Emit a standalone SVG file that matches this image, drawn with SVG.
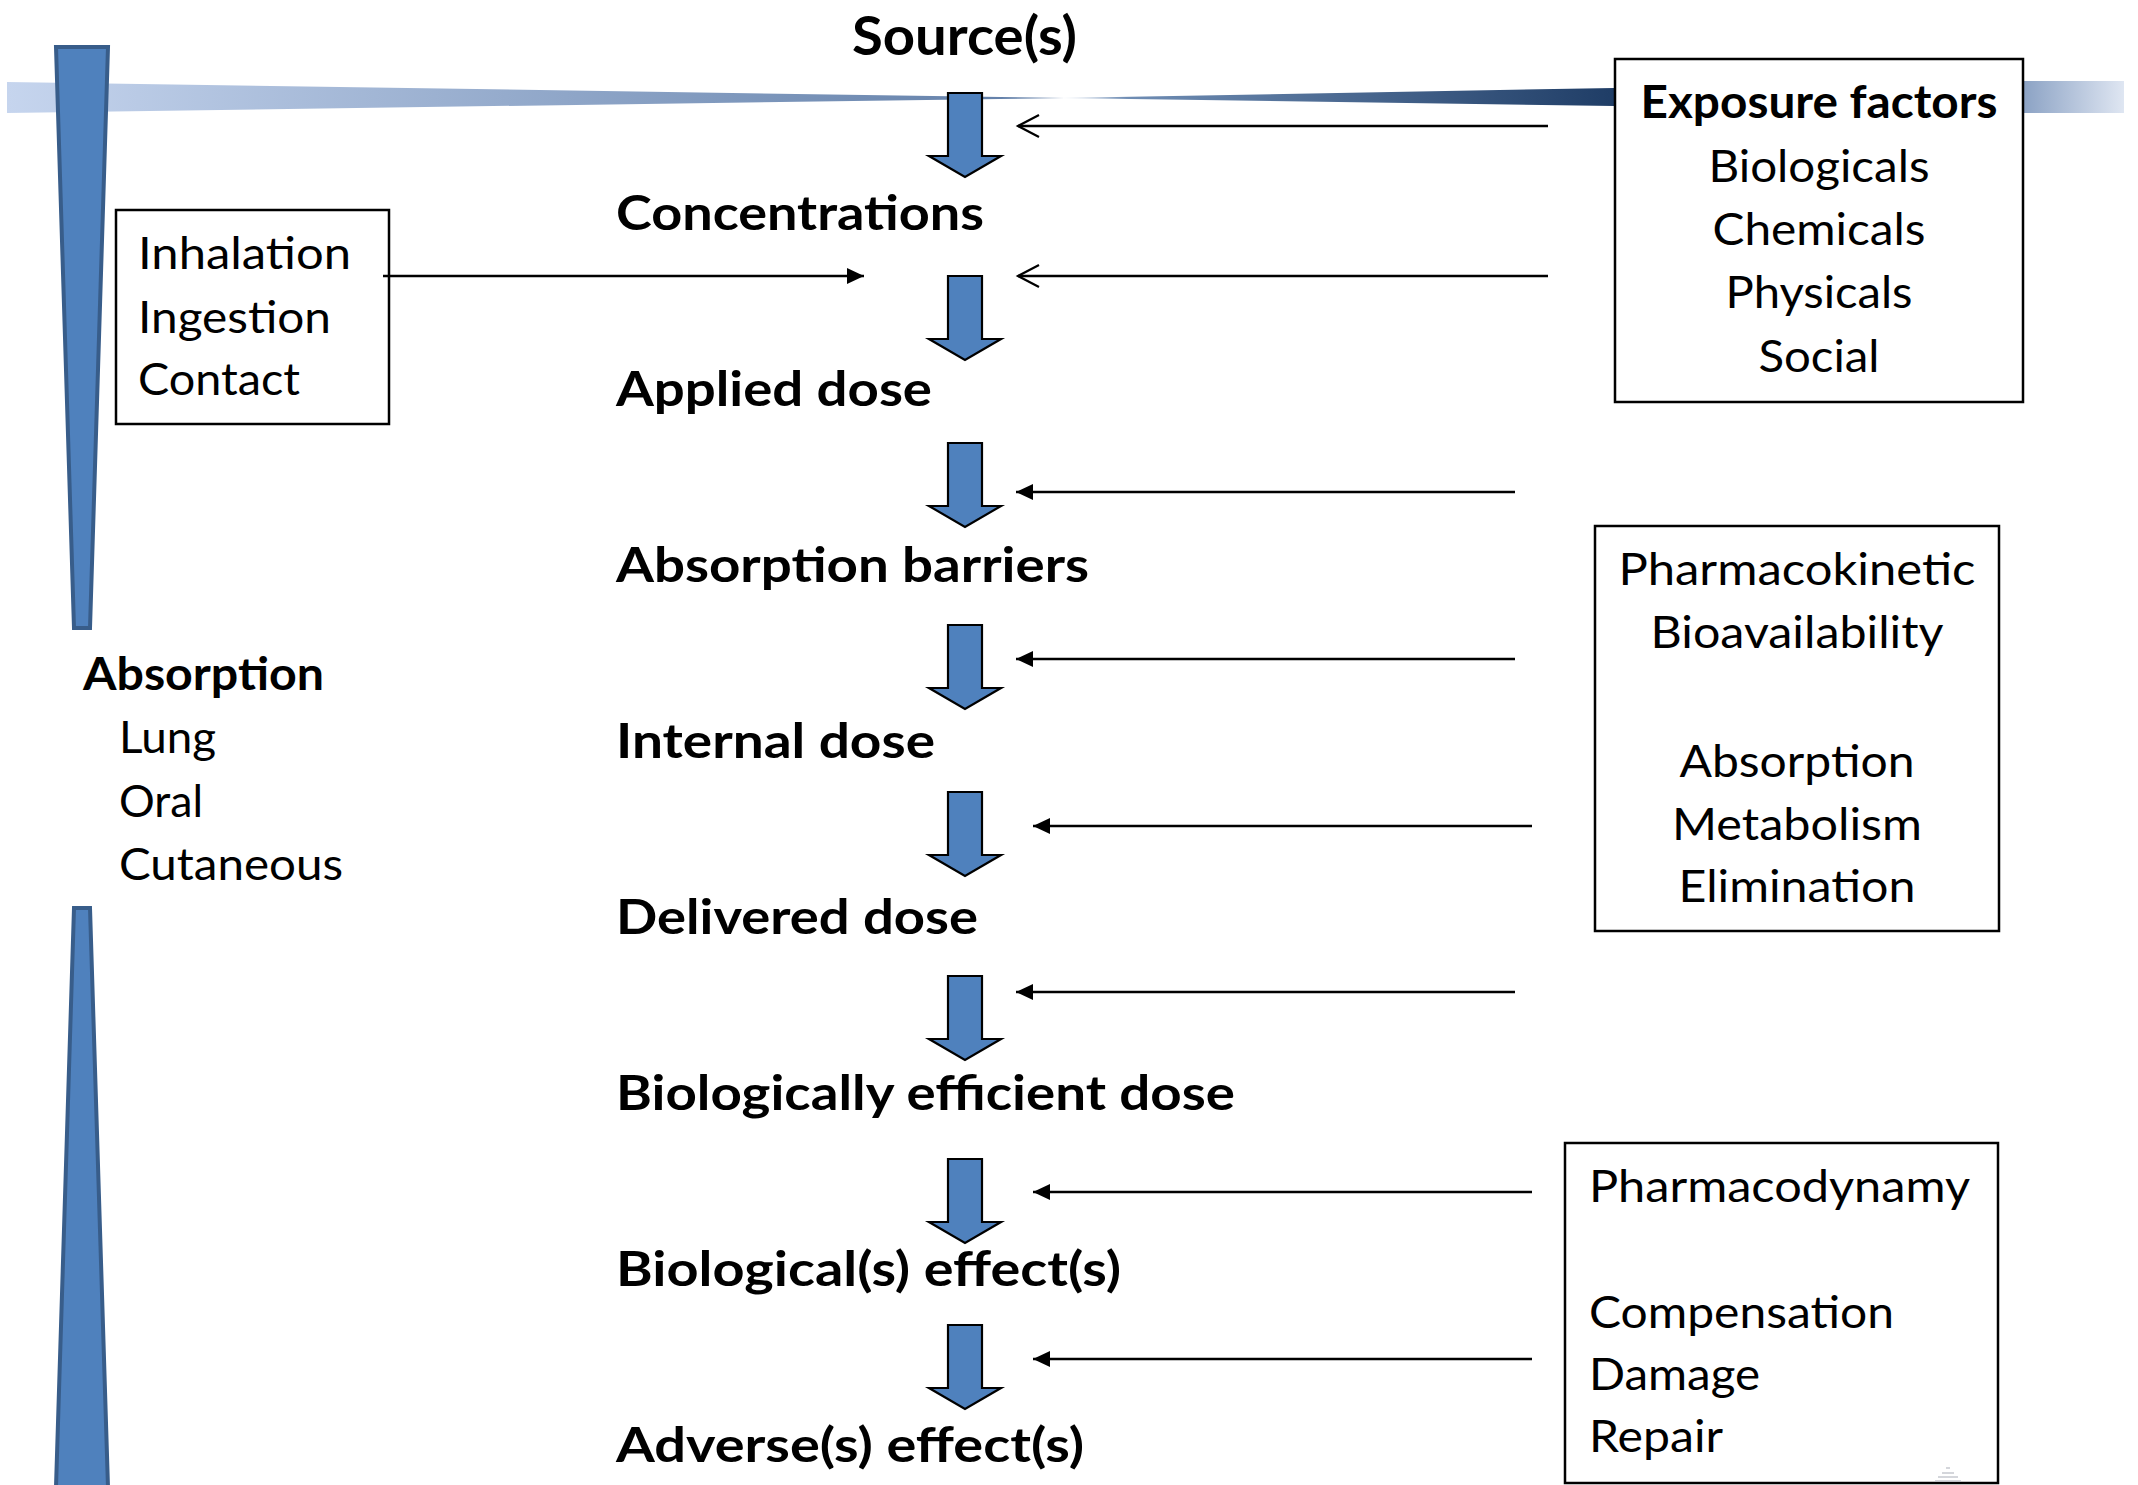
<svg xmlns="http://www.w3.org/2000/svg" width="2138" height="1485" viewBox="0 0 2138 1485">
<defs>
<style>
.b{font-family:Lato,"Open Sans","Liberation Sans",sans-serif;font-weight:700;fill:#000}
.r{font-family:Lato,"Open Sans","Liberation Sans",sans-serif;font-weight:400;fill:#000}
.lbl{font-size:47px}
.t{font-size:45px}
.box{fill:none;stroke:#000;stroke-width:2.5}
.cn{stroke:#000;stroke-width:2.5;fill:none}
.dn{fill:#4f81bd;stroke:#000;stroke-width:2.2;stroke-linejoin:miter}
.bar{fill:#4f81bd;stroke:#385d8a;stroke-width:4}
</style>
<linearGradient id="gL" x1="0" y1="0" x2="1" y2="0">
<stop offset="0" stop-color="#c6d5ee"/>
<stop offset="1" stop-color="#5e7ca6"/>
</linearGradient>
<linearGradient id="gR" x1="0" y1="0" x2="1" y2="0">
<stop offset="0" stop-color="#e8eef6"/>
<stop offset="0.12" stop-color="#6f8db4"/>
<stop offset="1" stop-color="#1f3d66"/>
</linearGradient>
<linearGradient id="gE" x1="0" y1="0" x2="1" y2="0">
<stop offset="0" stop-color="#8ba2c4"/>
<stop offset="1" stop-color="#dfe6f2"/>
</linearGradient>
<marker id="mf" markerUnits="userSpaceOnUse" markerWidth="20" markerHeight="20" refX="17" refY="8" orient="auto">
<path d="M0,0 L17,8 L0,16 Z" fill="#000"/>
</marker>
<marker id="mo" markerUnits="userSpaceOnUse" markerWidth="26" markerHeight="28" refX="22" refY="12" orient="auto">
<path d="M1,1 L22,12 L1,23" fill="none" stroke="#000" stroke-width="2.2"/>
</marker>
<path id="darrow" d="M948,0 V63 H929 L965,84 L1001,63 H982 V0 Z"/>
</defs>
<rect width="2138" height="1485" fill="#fff"/>

<g id="bands">
<polygon points="7,82 7,113 1065,98" fill="url(#gL)"/>
<polygon points="1060,98 1614,88 1614,106" fill="url(#gR)"/>
<rect x="2023" y="81" width="101" height="32" fill="url(#gE)"/>
<polygon class="bar" points="56,47 108,47 90,628 74,628"/>
<polygon class="bar" points="74,908 90,908 108,1487 56,1487"/>
</g>

<g id="flow-arrows">
<use href="#darrow" class="dn" y="93"/>
<use href="#darrow" class="dn" y="276"/>
<use href="#darrow" class="dn" y="443"/>
<use href="#darrow" class="dn" y="625"/>
<use href="#darrow" class="dn" y="792"/>
<use href="#darrow" class="dn" y="976"/>
<use href="#darrow" class="dn" y="1159"/>
<use href="#darrow" class="dn" y="1325"/>
</g>

<g id="connectors">
<line class="cn" x1="383" y1="276" x2="864" y2="276" marker-end="url(#mf)"/>
<line class="cn" x1="1548" y1="126" x2="1018" y2="126" marker-end="url(#mo)"/>
<line class="cn" x1="1548" y1="276" x2="1018" y2="276" marker-end="url(#mo)"/>
<line class="cn" x1="1515" y1="492" x2="1016" y2="492" marker-end="url(#mf)"/>
<line class="cn" x1="1515" y1="659" x2="1016" y2="659" marker-end="url(#mf)"/>
<line class="cn" x1="1532" y1="826" x2="1033" y2="826" marker-end="url(#mf)"/>
<line class="cn" x1="1515" y1="992" x2="1016" y2="992" marker-end="url(#mf)"/>
<line class="cn" x1="1532" y1="1192" x2="1033" y2="1192" marker-end="url(#mf)"/>
<line class="cn" x1="1532" y1="1359" x2="1033" y2="1359" marker-end="url(#mf)"/>
</g>

<g id="source"><text class="b" font-size="54" x="852" y="55" textLength="225" lengthAdjust="spacingAndGlyphs">Source(s)</text></g>
<g id="concentrations"><text class="b lbl" x="616" y="230" textLength="368" lengthAdjust="spacingAndGlyphs">Concentrations</text></g>
<g id="applied-dose"><text class="b lbl" x="616" y="406" textLength="316" lengthAdjust="spacingAndGlyphs">Applied dose</text></g>
<g id="absorption-barriers"><text class="b lbl" x="616" y="582" textLength="473" lengthAdjust="spacingAndGlyphs">Absorption barriers</text></g>
<g id="internal-dose"><text class="b lbl" x="616" y="758" textLength="319" lengthAdjust="spacingAndGlyphs">Internal dose</text></g>
<g id="delivered-dose"><text class="b lbl" x="616" y="934" textLength="362" lengthAdjust="spacingAndGlyphs">Delivered dose</text></g>
<g id="bio-efficient-dose"><text class="b lbl" x="616" y="1110" textLength="619" lengthAdjust="spacingAndGlyphs">Biologically efficient dose</text></g>
<g id="bio-effects"><text class="b lbl" x="616" y="1286" textLength="505" lengthAdjust="spacingAndGlyphs">Biological(s) effect(s)</text></g>
<g id="adverse-effects"><text class="b lbl" x="616" y="1462" textLength="468" lengthAdjust="spacingAndGlyphs">Adverse(s) effect(s)</text></g>

<g id="routes">
<rect class="box" x="116" y="210" width="273" height="214"/>
<text class="r t" x="138" y="269" textLength="213" lengthAdjust="spacingAndGlyphs">Inhalation</text>
<text class="r t" x="138" y="333" textLength="193" lengthAdjust="spacingAndGlyphs">Ingestion</text>
<text class="r t" x="138" y="395" textLength="162" lengthAdjust="spacingAndGlyphs">Contact</text>
</g>

<g id="absorption">
<text class="b t" x="83" y="690" textLength="241" lengthAdjust="spacingAndGlyphs">Absorption</text>
<text class="r t" x="119" y="753" textLength="97" lengthAdjust="spacingAndGlyphs">Lung</text>
<text class="r t" x="119" y="817" textLength="84" lengthAdjust="spacingAndGlyphs">Oral</text>
<text class="r t" x="119" y="880" textLength="224" lengthAdjust="spacingAndGlyphs">Cutaneous</text>
</g>

<g id="exposure-factors" text-anchor="middle">
<rect class="box" x="1615" y="59" width="408" height="343"/>
<text class="b t" x="1819" y="118" textLength="357" lengthAdjust="spacingAndGlyphs">Exposure factors</text>
<text class="r t" x="1819" y="182" textLength="221" lengthAdjust="spacingAndGlyphs">Biologicals</text>
<text class="r t" x="1819" y="245" textLength="213" lengthAdjust="spacingAndGlyphs">Chemicals</text>
<text class="r t" x="1819" y="308" textLength="187" lengthAdjust="spacingAndGlyphs">Physicals</text>
<text class="r t" x="1819" y="372" textLength="121" lengthAdjust="spacingAndGlyphs">Social</text>
</g>

<g id="pharmacokinetic" text-anchor="middle">
<rect class="box" x="1595" y="526" width="404" height="405"/>
<text class="r t" x="1797" y="585" textLength="357" lengthAdjust="spacingAndGlyphs">Pharmacokinetic</text>
<text class="r t" x="1797" y="648" textLength="293" lengthAdjust="spacingAndGlyphs">Bioavailability</text>
<text class="r t" x="1797" y="777" textLength="235" lengthAdjust="spacingAndGlyphs">Absorption</text>
<text class="r t" x="1797" y="840" textLength="250" lengthAdjust="spacingAndGlyphs">Metabolism</text>
<text class="r t" x="1797" y="902" textLength="237" lengthAdjust="spacingAndGlyphs">Elimination</text>
</g>

<g id="pharmacodynamy">
<rect class="box" x="1565" y="1143" width="433" height="340"/>
<text class="r t" x="1589" y="1202" textLength="381" lengthAdjust="spacingAndGlyphs">Pharmacodynamy</text>
<text class="r t" x="1589" y="1328" textLength="305" lengthAdjust="spacingAndGlyphs">Compensation</text>
<text class="r t" x="1589" y="1390" textLength="171" lengthAdjust="spacingAndGlyphs">Damage</text>
<text class="r t" x="1589" y="1452" textLength="134" lengthAdjust="spacingAndGlyphs">Repair</text>
</g>

<g id="watermark" stroke="#b8bcc4" stroke-width="1.5" opacity="0.8">
<line x1="1946" y1="1468" x2="1950" y2="1468"/>
<line x1="1942" y1="1473" x2="1954" y2="1473"/>
<line x1="1938" y1="1477" x2="1958" y2="1477"/>
<line x1="1935" y1="1481" x2="1961" y2="1481"/>
</g>
</svg>
